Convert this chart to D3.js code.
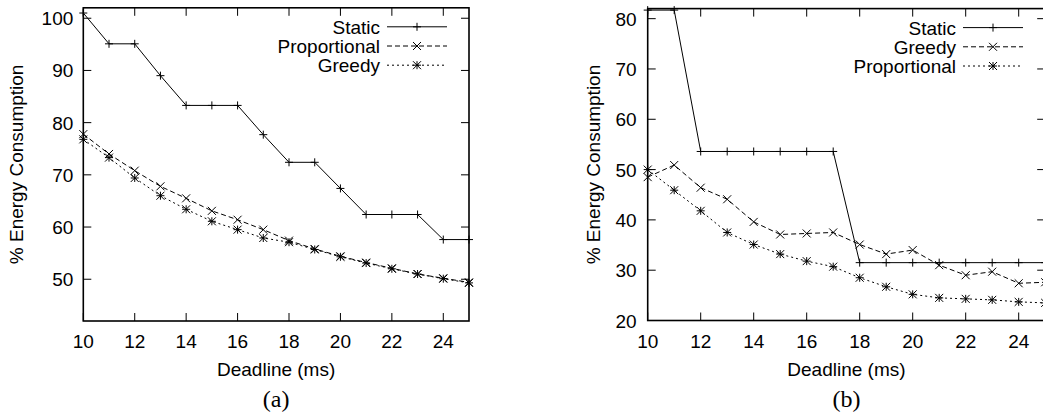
<!DOCTYPE html>
<html><head><meta charset="utf-8">
<script src="https://cdn.jsdelivr.net/npm/d3@7"></script>
<style>
body{margin:0;background:#fff;}
svg{display:block;}
text{font-family:"Liberation Sans",Arial,Helvetica,sans-serif;fill:#000;}
</style></head><body>
<svg id="chart" width="1043" height="418"></svg>
<script>
const deadlines = [10,11,12,13,14,15,16,17,18,19,20,21,22,23,24,25];
const xTicks = [10,12,14,16,18,20,22,24];

// Panel (a)
const aStatic       = [101,95.1,95.1,89.0,83.3,83.3,83.3,77.7,72.4,72.4,67.4,62.4,62.4,62.4,57.6,57.6];
const aProportional = [77.8,74.0,70.8,67.8,65.5,63.1,61.4,59.5,57.4,55.8,54.4,53.2,52.1,51.0,50.2,49.4];
const aGreedy       = [76.8,73.3,69.4,66.0,63.4,61.1,59.5,57.9,57.1,55.7,54.3,53.1,52.0,51.0,50.1,49.3];
const aYTicks = [50,60,70,80,90,100];
const aNames = ["Static","Proportional","Greedy"];

// Panel (b)
const bStatic       = [81.7,81.7,53.6,53.6,53.6,53.6,53.6,53.6,31.5,31.5,31.5,31.5,31.5,31.5,31.5,31.5];
const bGreedy       = [48.5,50.9,46.4,44.1,39.6,37.1,37.3,37.5,35.1,33.2,34.0,31.0,29.0,29.7,27.4,27.6];
const bProportional = [50.0,45.9,41.8,37.5,35.1,33.2,31.8,30.7,28.5,26.7,25.2,24.5,24.3,24.1,23.7,23.5];
const bYTicks = [20,30,40,50,60,70,80];
const bNames = ["Static","Greedy","Proportional"];

const svg = d3.select("#chart");
const FS = 19;

function marker(g, type, cx, cy){
  const s = 4;
  let d = "";
  if (type === "plus" || type === "star") d += `M${cx-s},${cy}H${cx+s}M${cx},${cy-s}V${cy+s}`;
  if (type === "cross" || type === "star") d += `M${cx-s},${cy-s}L${cx+s},${cy+s}M${cx-s},${cy+s}L${cx+s},${cy-s}`;
  g.append("path").attr("d", d).attr("stroke","#000").attr("stroke-width",1).attr("fill","none");
}

function panel(opts){
  const {x0,x1,y0,y1,ydom,yTicks,series,names,legendRight,label,ylabX,ytGap} = opts;
  const x = d3.scaleLinear().domain([10,25]).range([x0,x1]);
  const y = d3.scaleLinear().domain(ydom).range([y1,y0]);
  const g = svg.append("g");
  const tl = 8;
  xTicks.forEach(t=>{
    g.append("line").attr("x1",x(t)).attr("x2",x(t)).attr("y1",y1).attr("y2",y1-tl).attr("stroke","#000");
    g.append("line").attr("x1",x(t)).attr("x2",x(t)).attr("y1",y0).attr("y2",y0+tl).attr("stroke","#000");
    g.append("text").attr("x",x(t)).attr("y",y1+27).attr("text-anchor","middle").attr("font-size",FS).text(t);
  });
  yTicks.forEach(t=>{
    g.append("line").attr("x1",x0).attr("x2",x0+tl).attr("y1",y(t)).attr("y2",y(t)).attr("stroke","#000");
    g.append("line").attr("x1",x1).attr("x2",x1-tl).attr("y1",y(t)).attr("y2",y(t)).attr("stroke","#000");
    g.append("text").attr("x",x0-ytGap).attr("y",y(t)+7).attr("text-anchor","end").attr("font-size",FS).text(t);
  });
  g.append("rect").attr("x",x0).attr("y",y0).attr("width",x1-x0).attr("height",y1-y0)
    .attr("fill","none").attr("stroke","#000").attr("stroke-width",1.6);
  const line = d3.line().x((d,i)=>x(deadlines[i])).y(d=>y(d));
  series.forEach((s,k)=>{
    g.append("path").attr("d",line(s.values)).attr("fill","none").attr("stroke","#000")
      .attr("stroke-width",1).attr("stroke-dasharray",s.dash);
    s.values.forEach((v,i)=>marker(g,s.marker,x(deadlines[i]),y(v)));
    const ly = y0 + 19 + k*19.2;
    g.append("text").attr("x",legendRight).attr("y",ly+7).attr("text-anchor","end").attr("font-size",FS).text(names[k]);
    g.append("path").attr("d",`M${legendRight+7},${ly}H${legendRight+67}`).attr("stroke","#000")
      .attr("stroke-width",1).attr("fill","none").attr("stroke-dasharray",s.dash);
    marker(g,s.marker,legendRight+37,ly);
  });
  g.append("text").attr("transform",`translate(${ylabX},${(y0+y1)/2}) rotate(-90)`)
    .attr("text-anchor","middle").attr("font-size",FS).text("% Energy Consumption");
  g.append("text").attr("x",(x0+x1)/2).attr("y",y1+55).attr("text-anchor","middle").attr("font-size",FS).text("Deadline (ms)");
  g.append("text").attr("x",(x0+x1)/2).attr("y",y1+86).attr("text-anchor","middle").attr("font-size",24)
    .style("font-family","'Liberation Serif','Times New Roman',serif").text(label);
}

panel({x0:83.3,x1:469,y0:7.8,y1:321,ydom:[42,102],yTicks:aYTicks,
  series:[{values:aStatic,marker:"plus",dash:null},{values:aProportional,marker:"cross",dash:"5,3"},{values:aGreedy,marker:"star",dash:"2,3"}],
  names:aNames,legendRight:380,label:"(a)",ylabX:23,ytGap:10});
panel({x0:647.7,x1:1045.2,y0:8.6,y1:320.5,ydom:[20,82],yTicks:bYTicks,
  series:[{values:bStatic,marker:"plus",dash:null},{values:bGreedy,marker:"cross",dash:"5,3"},{values:bProportional,marker:"star",dash:"2,3"}],
  names:bNames,legendRight:956,label:"(b)",ylabX:600,ytGap:11});
</script>
</body></html>
